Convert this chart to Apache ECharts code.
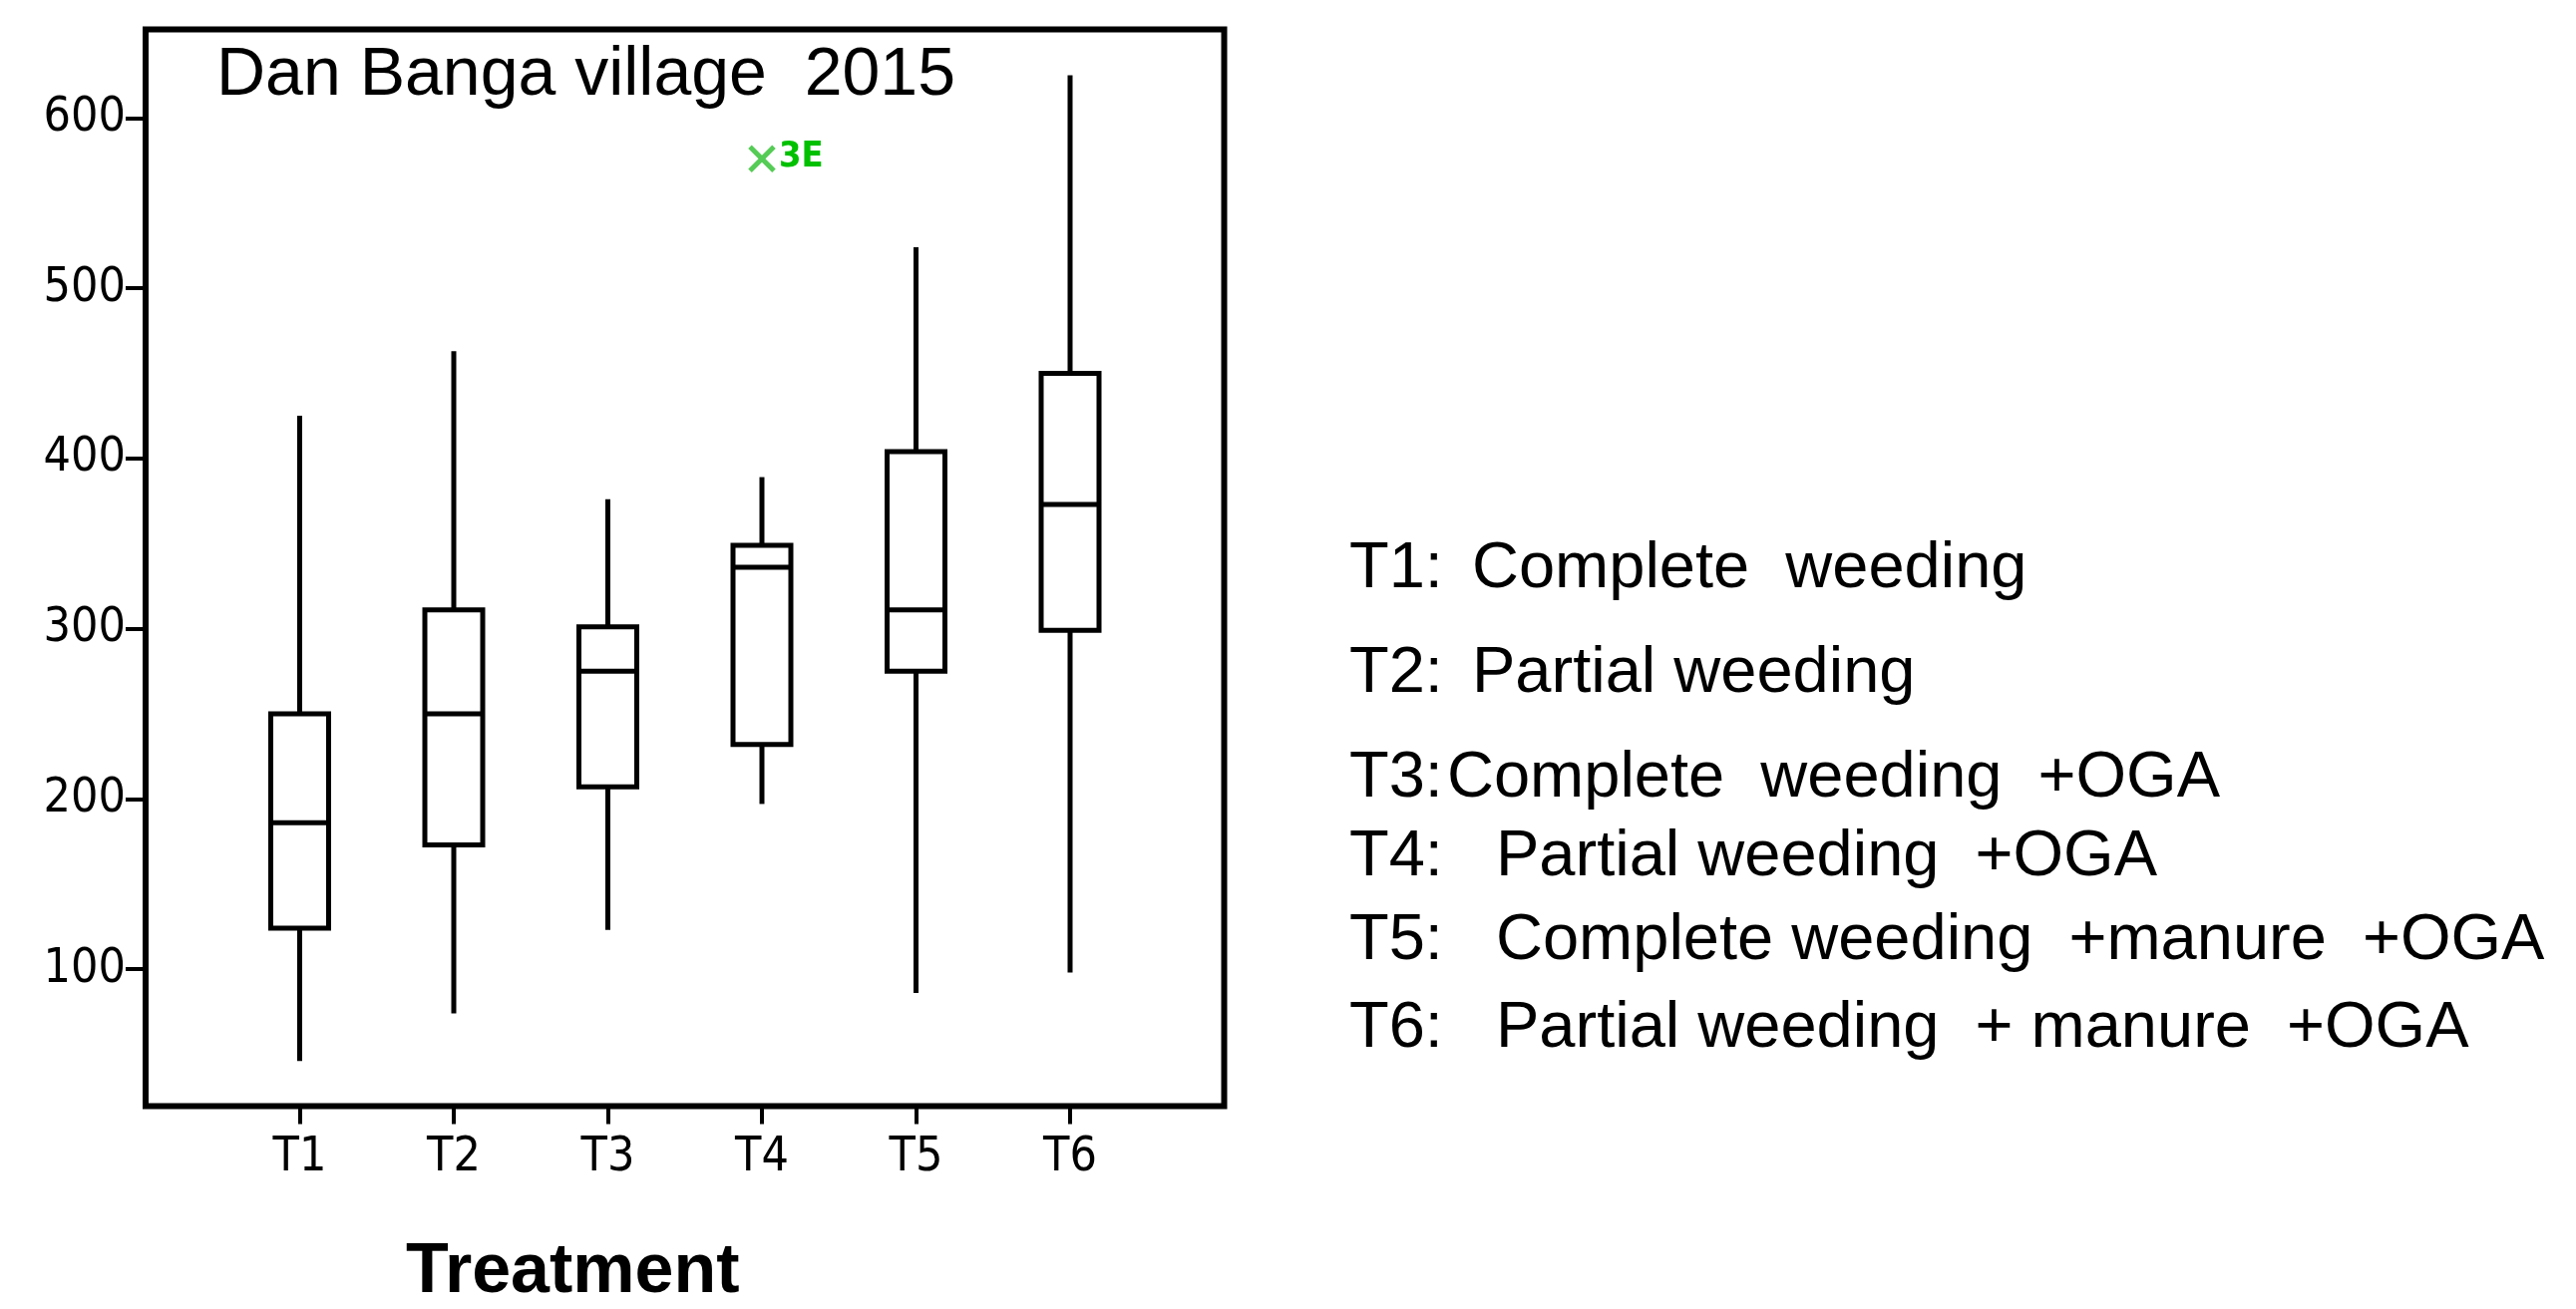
<!DOCTYPE html>
<html>
<head>
<meta charset="utf-8">
<title>Dan Banga village 2015</title>
<script src="https://cdn.jsdelivr.net/npm/echarts@6/dist/echarts.min.js"></script>
<style>
  html, body { margin: 0; padding: 0; background: #fff; }
  #chart { width: 2583px; height: 1313px; }
</style>
</head>
<body>
<div id="chart"></div>
<script>
// treatments and box statistics
var categories = ['T1', 'T2', 'T3', 'T4', 'T5', 'T6'];
var lowValues = [46, 74, 123, 197, 86, 98];
var q1Values = [124, 173, 207, 232, 275, 299];
var medianValues = [186, 250, 275, 336, 311, 373];
var q3Values = [250, 311, 301, 349, 404, 450];
var highValues = [425, 463, 376, 389, 524, 625];
// extreme value shown in green
var outlierCategory = 'T4';
var outlierValue = 576;
var outlierLabel = '3E';
var yTicks = [100, 200, 300, 400, 500, 600];

var notePrefix = ['T1:', 'T2:', 'T3:', 'T4:', 'T5:', 'T6:'];
var noteText = ['Complete  weeding', 'Partial weeding', 'Complete  weeding  +OGA',
	'Partial weeding  +OGA', 'Complete weeding  +manure  +OGA', 'Partial weeding  + manure  +OGA'];

var FONT = "'Liberation Sans', Arial, sans-serif";
var NARROW = "'Liberation Sans Narrow', 'DejaVu Sans Condensed', 'Liberation Sans', sans-serif";

// axis has an empty slot on both sides so T1..T6 sit one step in from the frame
var axisCats = [''].concat(categories).concat(['']);

var boxData = categories.map(function (c, i) {
	return [i + 1, lowValues[i], q1Values[i], medianValues[i], q3Values[i], highValues[i]];
});
var outlierData = [[categories.indexOf(outlierCategory) + 1, outlierValue]];

var chart = echarts.init(document.getElementById('chart'), null, {renderer: 'canvas'});

var renderBox = function (params, api) {
	var x = api.value(0);
	var low = api.coord([x, api.value(1)]);
	var q1 = api.coord([x, api.value(2)]);
	var med = api.coord([x, api.value(3)]);
	var q3 = api.coord([x, api.value(4)]);
	var high = api.coord([x, api.value(5)]);
	var half = 29;
	var st = {stroke: '#000', lineWidth: 5, fill: null};
	return {
		type: 'group',
		children: [
			{type: 'line', shape: {x1: low[0], y1: low[1], x2: q1[0], y2: q1[1]}, style: st},
			{type: 'line', shape: {x1: q3[0], y1: q3[1], x2: high[0], y2: high[1]}, style: st},
			{type: 'rect', shape: {x: q3[0] - half, y: q3[1], width: half * 2, height: q1[1] - q3[1]},
				style: {stroke: '#000', lineWidth: 5, fill: '#fff'}},
			{type: 'line', shape: {x1: med[0] - half, y1: med[1], x2: med[0] + half, y2: med[1]}, style: st}
		]
	};
};

var renderOutlier = function (params, api) {
	var p = api.coord([api.value(0), api.value(1)]);
	var s = 12;
	var st = {stroke: '#55cc55', lineWidth: 5, fill: null};
	return {
		type: 'group',
		children: [
			{type: 'line', shape: {x1: p[0] - s, y1: p[1] - s, x2: p[0] + s, y2: p[1] + s}, style: st},
			{type: 'line', shape: {x1: p[0] + s, y1: p[1] - s, x2: p[0] - s, y2: p[1] + s}, style: st},
			{type: 'text', x: p[0] + 17, y: p[1] - 2,
				style: {text: outlierLabel, fill: '#00c000', font: 'bold 36px ' + NARROW, verticalAlign: 'middle'}}
		]
	};
};

var graphics = [
	{type: 'text', left: 217, top: 42,
		style: {text: 'Dan Banga village  2015', fill: '#000', font: '68px ' + FONT}},
	{type: 'text', left: 407, top: 1242,
		style: {text: 'Treatment', fill: '#000', font: 'bold 70px ' + FONT}}
];
var baselines = [592, 697, 802, 881, 965, 1053];
var noteX = [1476, 1476, 1451, 1500, 1500, 1500];
notePrefix.forEach(function (p, i) {
	graphics.push({type: 'text', x: 1353, y: baselines[i] - 21,
		style: {text: p, fill: '#000', font: '65px ' + FONT, verticalAlign: 'middle'}});
	graphics.push({type: 'text', x: noteX[i], y: baselines[i] - 21,
		style: {text: noteText[i], fill: '#000', font: '65px ' + FONT, verticalAlign: 'middle'}});
});

var option = {
	backgroundColor: '#fff',
	animation: false,
	grid: {
		left: 146, top: 29.5, width: 1081.5, height: 1080,
		show: true, borderColor: '#000', borderWidth: 6, backgroundColor: 'transparent'
	},
	xAxis: {
		type: 'category',
		data: axisCats,
		boundaryGap: false,
		axisLine: {show: false},
		axisTick: {
			show: true,
			interval: function (i, v) { return v !== ''; },
			length: 18,
			lineStyle: {color: '#000', width: 4}
		},
		axisLabel: {interval: 0, color: '#000', fontSize: 48, fontFamily: NARROW, margin: 28},
		splitLine: {show: false}
	},
	yAxis: {
		type: 'value',
		min: 19.5,
		max: 652,
		axisLine: {show: false},
		axisTick: {show: true, customValues: yTicks, length: 20, lineStyle: {color: '#000', width: 4}},
		axisLabel: {customValues: yTicks, color: '#000', fontSize: 48, fontFamily: NARROW, margin: 20},
		splitLine: {show: false}
	},
	graphic: graphics,
	series: [
		{type: 'custom', renderItem: renderBox, data: boxData, encode: {x: 0, y: [1, 2, 3, 4, 5]}, z: 3},
		{type: 'custom', renderItem: renderOutlier, data: outlierData, encode: {x: 0, y: 1}, z: 4}
	]
};
chart.setOption(option);
</script>
</body>
</html>
